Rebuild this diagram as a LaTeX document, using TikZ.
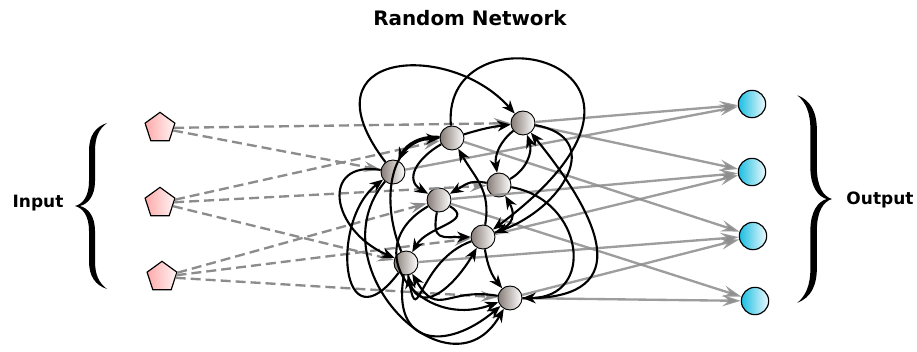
\documentclass[tikz,border=0pt]{standalone}
\usepackage{fontspec}
\setmainfont{DejaVu Sans}
\usetikzlibrary{arrows.meta, positioning, shapes.geometric}
\definecolor{inpink}{RGB}{255,170,170}
\definecolor{outcyan}{RGB}{28,190,226}
\definecolor{resgray}{RGB}{135,124,118}
\definecolor{linkgray}{RGB}{140,140,140}
\tikzset{
  inp/.style={regular polygon, regular polygon sides=5, draw=black, line width=1pt, left color=inpink, right color=inpink!12, minimum size=9.4mm, inner sep=0pt},
  outp/.style={circle, draw=black, line width=1pt, left color=outcyan, right color=outcyan!8, minimum size=8.2mm, inner sep=0pt},
  res/.style={circle, draw=black, line width=0.8pt, left color=resgray, right color=white, minimum size=7.2mm, inner sep=0pt},
  inarr/.style={dash pattern=on 3mm off 1.5mm, line width=2pt, linkgray, -{Stealth[length=5mm, width=3.2mm, inset=1.8mm]}},
  outarr/.style={line width=2pt, linkgray, opacity=0.85, -{Stealth[length=5.5mm, width=3.4mm, inset=2mm]}},
  recarr/.style={line width=1.8pt, black, -{Stealth[length=4mm, width=3.2mm]}},
  lbl/.style={font=\bfseries\fontsize{14.5}{16}\selectfont}
}
% curly brace, tip at (0,0), opening to the right
\newcommand{\drawbrace}{%
  \fill (32,83) .. controls (20,79) and (14,70) .. (14,55) -- (14,25)
    .. controls (14,10) and (8,2) .. (0,0)
    .. controls (8,-2) and (14,-10) .. (14,-25) -- (14,-55)
    .. controls (14,-70) and (20,-79) .. (32,-83)
    .. controls (24,-77) and (20,-69) .. (20,-55) -- (20,-25)
    .. controls (20,-10) and (13,-2) .. (5,0)
    .. controls (13,2) and (20,10) .. (20,25) -- (20,55)
    .. controls (20,69) and (24,77) .. (32,83) -- cycle;}

\begin{document}
\begin{tikzpicture}[x=0.3mm, y=0.3mm]
\useasboundingbox (0,0) rectangle (917,-351);
% labels
\node[lbl, font=\bfseries\fontsize{17}{19}\selectfont] (title) at (470,-18) {Random Network};
\node[lbl] (inlbl) at (38,-203) {Input};
\node[lbl] (outlbl) at (880,-200) {Output};
% braces
\begin{scope}[shift={(75,-206)}]
  \drawbrace
\end{scope}
\begin{scope}[shift={(832,-199)}, xscale=-1.08, yscale=1.25]
  \drawbrace
\end{scope}
% input layer
\node[inp] (in1) at (160,-128) {};
\node[inp] (in2) at (160,-203) {};
\node[inp] (in3) at (162,-277) {};
% reservoir
\node[res] (A) at (523,-123) {};
\node[res] (B) at (452,-138) {};
\node[res] (C) at (393,-172) {};
\node[res] (D) at (499,-185) {};
\node[res] (E) at (439,-200) {};
\node[res] (F) at (483,-237) {};
\node[res] (G) at (406,-263) {};
\node[res] (H) at (510,-298) {};
% output layer
\node[outp] (out1) at (752,-104) {};
\node[outp] (out2) at (752,-172) {};
\node[outp] (out3) at (753,-236) {};
\node[outp] (out4) at (755,-301) {};
% input links
\draw[inarr] (in1) -- (A);
\draw[inarr] (in1) -- (C);
\draw[inarr] (in2) -- (B);
\draw[inarr] (in2) -- (D);
\draw[inarr] (in2) -- (G);
\draw[inarr] (in3) -- (E);
\draw[inarr] (in3) -- (F);
\draw[inarr] (in3) -- (H);
% output links
\draw[outarr] (A) -- (out1);
\draw[outarr] (C) -- (out1);
\draw[outarr] (A) -- (out2);
\draw[outarr] (E) -- (out2);
\draw[outarr] (F) -- (out2);
\draw[outarr] (B) -- (out3);
\draw[outarr] (G) -- (out3);
\draw[outarr] (H) -- (out3);
\draw[outarr] (E) -- (out4);
\draw[outarr] (H) -- (out4);
% recurrent links
\draw[recarr] (C) .. controls (300,-50) and (450,-40) .. (A);
\draw[recarr] (B) .. controls (440,0) and (720,-60) .. (F);
\draw[recarr] (B) to[bend right=35] (C);
\draw[recarr] (B) to[bend left=5] (A);
\draw[recarr] (B) to[out=-150, in=150, looseness=1.4] (E);
\draw[recarr] (A) to[bend right=30] (D);
\draw[recarr] (D) to[bend right=40] (A);
\draw[recarr] (H) .. controls (630,-300) and (610,-230) .. (A);
\draw[recarr] (D) to[out=170, in=30, looseness=1.2] (E);
\draw[recarr] (E) to[out=-100, in=180, looseness=1.8] (F);
\draw[recarr] (F) to[out=20, in=-60, looseness=1.4] (D);
\draw[recarr] (F) to[out=80, in=-60, looseness=1.1] (B);
\draw[recarr] (C) .. controls (320,-160) and (330,-230) .. (G);
\draw[recarr] (G) .. controls (340,-350) and (330,-220) .. (C);
\draw[recarr] (C) to[out=-130, in=-120, looseness=1.6] (H);
\draw[recarr] (E) to[out=-30, in=60, looseness=1.3] (G);
\draw[recarr] (F) to[out=-160, in=-80, looseness=2] (G);
\draw[recarr] (G) to[out=-80, in=-120, looseness=1.6] (F);
\draw[recarr] (F) to[bend right=15] (H);
\draw[recarr] (D) to[out=-10, in=0, looseness=1.7] (H);
\draw[recarr] (G) to[out=-100, in=-140, looseness=1.8] (H);
\draw[recarr] (E) to[out=-150, in=-160, looseness=1.8] (H);
\draw[recarr] (H) to[out=170, in=-60, looseness=1.5] (G);
\draw[recarr] (G) .. controls (380,-200) and (390,-140) .. (B);
\draw[recarr] (A) to[out=-10, in=20, looseness=1.6] (F);
\end{tikzpicture}
\end{document}
